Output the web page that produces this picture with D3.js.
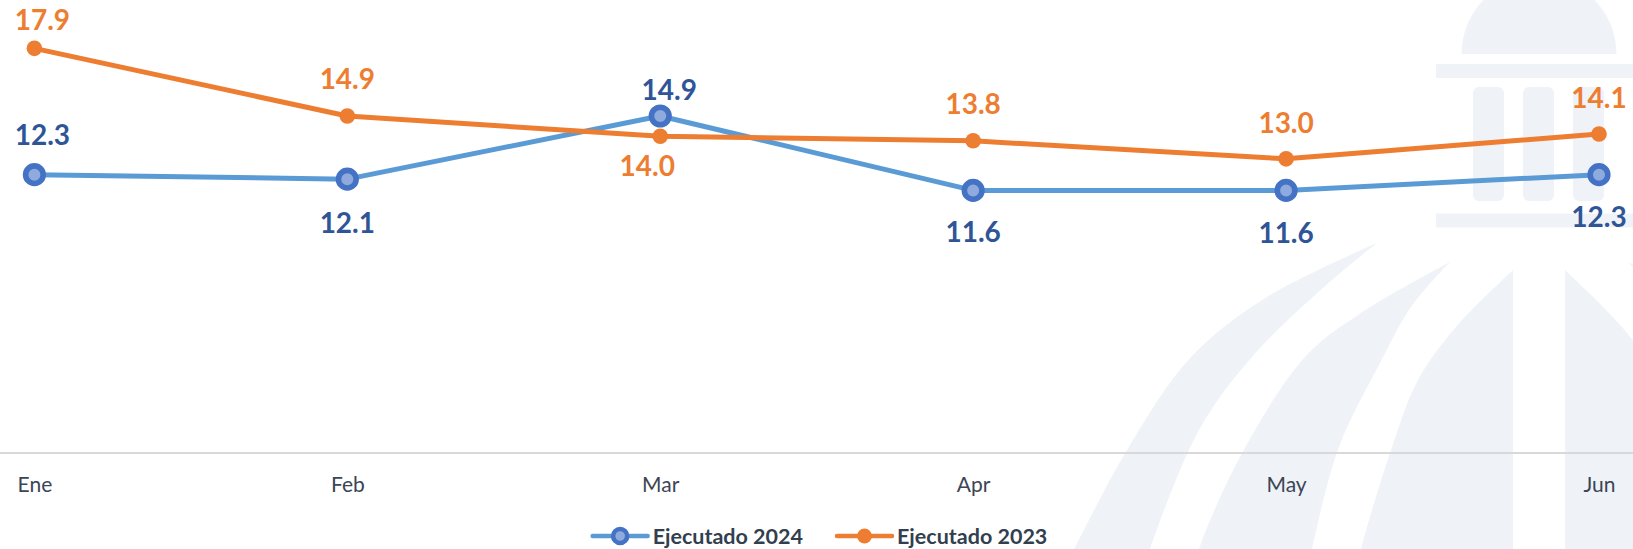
<!DOCTYPE html>
<html>
<head>
<meta charset="utf-8">
<script src="https://cdn.jsdelivr.net/npm/d3@7"></script>
<style>
  html, body { margin: 0; padding: 0; background: #ffffff; }
  svg { display: block; }
</style>
</head>
<body>
<svg id="chart" width="1633" height="549"></svg>
<script>
// ---- data ----
const months = ["Ene", "Feb", "Mar", "Apr", "May", "Jun"];
const ejecutado2024 = [12.3, 12.1, 14.9, 11.6, 11.6, 12.3];
const ejecutado2023 = [17.9, 14.9, 14.0, 13.8, 13.0, 14.1];
const seriesNames = ["Ejecutado 2024", "Ejecutado 2023"];
const yDomain = [0, 20];

// ---- value label placement (baseline offset from the point, horizontal nudge) ----
const labelDy2024 = [-30, 54, -16, 52, 53, 52];
const labelDy2023 = [-18, -27, 40, -27, -26, -26];
const labelDx2024 = [8, 0, 9, 0, 0, 0];
const labelDx2023 = [8, 0, -13, 0, 0, 0];

const W = 1633, H = 549;
const svg = d3.select("#chart");

// ---- watermark (building + globe) ----
const wm = svg.append("g").attr("fill", "#EFF3F8");
const cx = 1539;
wm.append("path").attr("d", `M ${cx - 77.5} 54 A 77.5 77.5 0 0 1 ${cx + 77.5} 54 Z`);
wm.append("rect").attr("x", 1436).attr("y", 64).attr("width", 206).attr("height", 14);
wm.append("rect").attr("x", 1436).attr("y", 213.5).attr("width", 206).attr("height", 14);
[1473, 1523, 1573].forEach(x0 => {
  wm.append("rect").attr("x", x0).attr("y", 87).attr("width", 31).attr("height", 114).attr("rx", 6);
});

const edge = d3.line().curve(d3.curveCatmullRom.alpha(0.5));
function bandPath(outer, inner) {
  const a = edge(outer);
  const b = edge(inner.slice().reverse()).replace(/^M/, "L");
  return a + b + "Z";
}
const bands = [
  bandPath(
    [[1377, 243], [1267, 297], [1191, 357], [1127, 450], [1074, 549], [1068, 560]],
    [[1377, 243], [1324, 287], [1252, 357], [1199, 430], [1150, 549], [1147, 560]]
  ),
  bandPath(
    [[1450, 262], [1361, 313], [1305, 357], [1240, 457], [1199, 549], [1197, 560]],
    [[1450, 262], [1411, 307], [1380, 363], [1339, 447], [1312, 549], [1310, 560]]
  ),
  bandPath(
    [[1513, 270], [1456, 327], [1418, 380], [1392, 447], [1361, 549], [1359, 560]],
    [[1513, 270], [1513, 560]]
  )
];
const half = wm.append("g");
const mirror = wm.append("g").attr("transform", `translate(${2 * cx},0) scale(-1,1)`);
bands.forEach(d => {
  half.append("path").attr("d", d);
  mirror.append("path").attr("d", d);
});

// ---- scales ----
const x = d3.scalePoint().domain(months).range([34.4, 1599]);
const y = d3.scaleLinear().domain(yDomain).range([452, 1]);

// ---- category axis ----
svg.append("line")
  .attr("x1", 0).attr("x2", W)
  .attr("y1", y(0) + 1).attr("y2", y(0) + 1)
  .attr("stroke", "#D9D9D9").attr("stroke-width", 2);

const axis = svg.append("g")
  .attr("transform", `translate(0,${y(0) + 1})`)
  .call(d3.axisBottom(x).tickSize(0).tickPadding(24));
axis.select(".domain").remove();
axis.selectAll("text")
  .attr("font-family", "Lato, 'Open Sans', sans-serif")
  .attr("font-size", 21)
  .attr("fill", "#3B4556");

// ---- series ----
const series = [
  { name: seriesNames[0], values: ejecutado2024, line: "#5B9BD5", labelColor: "#2F5597",
    dy: labelDy2024, dx: labelDx2024, marker: "ring" },
  { name: seriesNames[1], values: ejecutado2023, line: "#ED7D31", labelColor: "#ED7D31",
    dy: labelDy2023, dx: labelDx2023, marker: "dot" }
];

const lineGen = d3.line()
  .x((d, i) => x(months[i]))
  .y(d => y(d));

function drawMarker(g, mx, my, kind, scale) {
  if (kind === "ring") {
    g.append("circle").attr("cx", mx).attr("cy", my).attr("r", 8.8 * scale)
      .attr("fill", "#8FAADC").attr("stroke", "#4472C4").attr("stroke-width", 5.6 * scale);
  } else {
    g.append("circle").attr("cx", mx).attr("cy", my).attr("r", 7.8 * scale)
      .attr("fill", "#ED7D31");
  }
}

series.forEach(s => {
  const g = svg.append("g");
  g.append("path")
    .attr("d", lineGen(s.values))
    .attr("fill", "none")
    .attr("stroke", s.line)
    .attr("stroke-width", 5)
    .attr("stroke-linejoin", "round")
    .attr("stroke-linecap", "round");
  s.values.forEach((v, i) => drawMarker(g, x(months[i]), y(v), s.marker, 1));
});

series.forEach(s => {
  svg.append("g").selectAll("text")
    .data(s.values)
    .join("text")
    .attr("x", (d, i) => x(months[i]) + s.dx[i])
    .attr("y", (d, i) => y(d) + s.dy[i])
    .attr("text-anchor", "middle")
    .attr("font-family", "Lato, 'Open Sans', sans-serif")
    .attr("font-weight", 700)
    .attr("font-size", 28)
    .attr("fill", s.labelColor)
    .text(d => d3.format(".1f")(d));
});

// ---- legend ----
const legend = svg.append("g");
const lineLen = 55, textGap = 5, itemGap = 34, legendY = 536;
let cursor = 0;
const items = series.map(s => {
  const item = legend.append("g").attr("transform", `translate(${cursor},0)`);
  item.append("line")
    .attr("x1", 0).attr("x2", lineLen)
    .attr("y1", legendY).attr("y2", legendY)
    .attr("stroke", s.line).attr("stroke-width", 4.5).attr("stroke-linecap", "round");
  drawMarker(item, lineLen / 2, legendY, s.marker, s.marker === "ring" ? 0.8 : 0.95);
  const t = item.append("text")
    .attr("x", lineLen + textGap)
    .attr("y", legendY + 7.5)
    .attr("font-family", "Lato, 'Open Sans', sans-serif")
    .attr("font-weight", 700)
    .attr("font-size", 21.5)
    .attr("fill", "#323F4F")
    .text(s.name);
  cursor += lineLen + textGap + t.node().getComputedTextLength() + itemGap;
  return item;
});
const legendWidth = cursor - itemGap;
legend.attr("transform", `translate(${820 - legendWidth / 2},0)`);
</script>
</body>
</html>
